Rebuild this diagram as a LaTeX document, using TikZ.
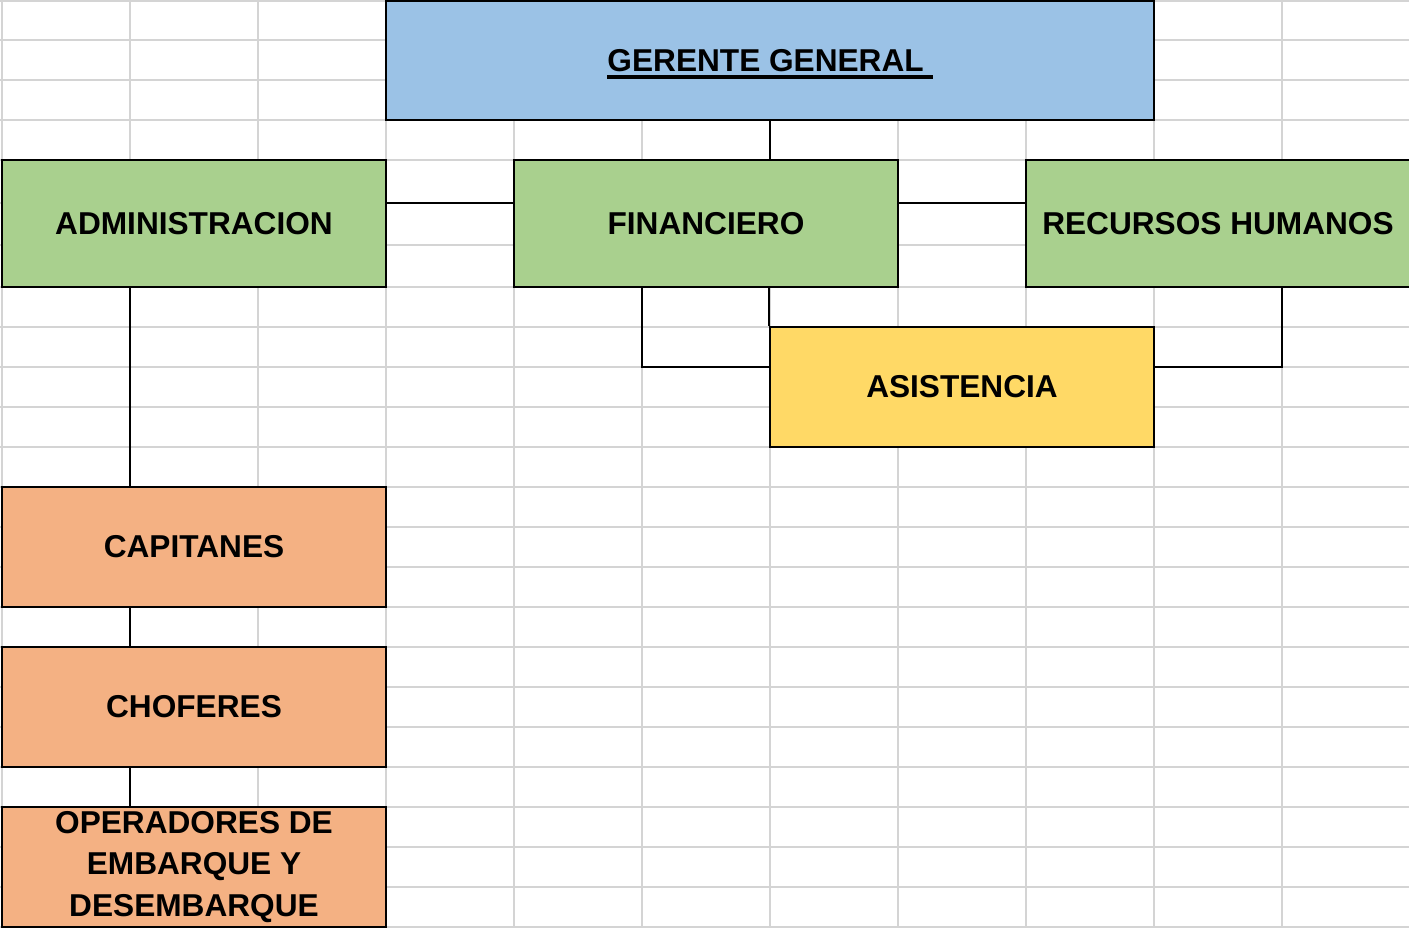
\documentclass[tikz,border=0pt]{standalone}
\usepackage{xcolor}
\usepackage{fontspec}
\setmainfont{Liberation Sans}
\usepackage{tikz}
\usetikzlibrary{positioning,calc}

\definecolor{celda}{HTML}{D4D4D4}
\definecolor{azul}{HTML}{9BC2E6}
\definecolor{verde}{HTML}{A9D08E}
\definecolor{amarillo}{HTML}{FFD966}
\definecolor{naranja}{HTML}{F4B183}

\newcommand{\subraya}[1]{\setbox0\hbox{#1}\rlap{\rule[-4.5pt]{\wd0}{2.6pt}}\box0}

\begin{document}
\begin{tikzpicture}[x=0.02cm, y=-0.02cm,
    caja/.style={draw=black, line width=1.3pt, minimum width=7.68cm, minimum height=2.4cm,
        inner sep=0pt, font=\fontsize{18}{23.5}\selectfont\bfseries, align=center},
    linea/.style={black, line width=1.2pt}]
    \useasboundingbox (0,0) rectangle (1409,928);
    \fill[white] (0,0) rectangle (1409,928);

    % cuadricula de la hoja
    \foreach \x in {2,130,...,1282}
        \draw[celda, line width=1.1pt] (\x,0) -- (\x,928);
    \foreach \y in {1,40,80,120,160,203,245,287,327,367,407,447,487,527,567,607,647,687,727,767,807,847,887,927}
        \draw[celda, line width=1.1pt] (0,\y) -- (1409,\y);

    \coordinate (fila1) at (0,203);
    \coordinate (fila2) at (0,367);
    \coordinate (col1) at (130,0);
    \coordinate (col2) at (642,0);
    \coordinate (col3) at (1282,0);

    \node[caja, fill=azul, minimum width=15.36cm, minimum height=2.38cm, text depth=0pt] (gerente) at (770,60.5) {\subraya{GERENTE GENERAL\ }};
    \node[caja, fill=verde, minimum height=2.54cm] (admin) at (194,223.5) {ADMINISTRACION};
    \node[caja, fill=verde, minimum height=2.54cm] (finan) at (706,223.5) {FINANCIERO};
    \node[caja, fill=verde, minimum height=2.54cm] (rrhh) at (1218,223.5) {RECURSOS HUMANOS};
    \node[caja, fill=amarillo] (asist) at (962,387) {ASISTENCIA};
    \node[caja, fill=naranja] (capit) at (194,547) {CAPITANES};
    \node[caja, fill=naranja] (chofer) at (194,707) {CHOFERES};
    \node[caja, fill=naranja] (operad) at (194,867) {OPERADORES DE\\EMBARQUE Y\\DESEMBARQUE};

    \draw[linea] (gerente.south) -- (gerente.south |- finan.north);
    \draw[linea] (admin.east |- fila1) -- (finan.west |- fila1);
    \draw[linea] (finan.east |- fila1) -- (rrhh.west |- fila1);
    \draw[linea] (admin.south -| col1) -- (capit.north -| col1);
    \draw[linea] (capit.south -| col1) -- (chofer.north -| col1);
    \draw[linea] (chofer.south -| col1) -- (operad.north -| col1);
    \draw[linea] (finan.south -| col2) |- (asist.west |- fila2);
    \draw[linea] (finan.south -| asist.north west) -- (asist.north west);
    \draw[linea] (rrhh.south -| col3) |- (asist.east |- fila2);
\end{tikzpicture}
\end{document}
